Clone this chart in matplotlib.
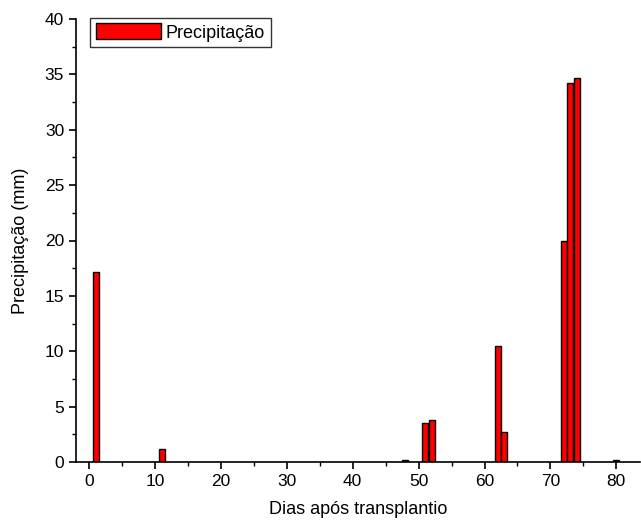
import numpy as np
import matplotlib
matplotlib.use('Agg')
import matplotlib.pyplot as plt
from matplotlib.ticker import MultipleLocator

plt.rcParams['font.family'] = ['Liberation Sans', 'DejaVu Sans']

# ========== Dados ==========
dias = [1, 11, 48, 51, 52, 62, 63, 72, 73, 74, 80]
precipitacao = [17.2, 1.2, 0.2, 3.5, 3.8, 10.5, 2.7, 20.0, 34.2, 34.7, 0.2]

# ========== Grafico ==========
fig = plt.figure(figsize=(6.41, 5.27), dpi=100)
ax = fig.add_axes([76 / 641, 65 / 527, 564 / 641, 443 / 527])

ax.bar(dias, precipitacao, width=0.9, color='#ff0000', edgecolor='black',
       linewidth=1.0, label='Precipitação')

ax.set_xlim(-2, 83.6)
ax.set_ylim(0, 40)
ax.xaxis.set_major_locator(MultipleLocator(10))
ax.xaxis.set_minor_locator(MultipleLocator(5))
ax.yaxis.set_major_locator(MultipleLocator(5))
ax.yaxis.set_minor_locator(MultipleLocator(2.5))

ax.spines['top'].set_visible(False)
ax.spines['right'].set_visible(False)
for s in ['left', 'bottom']:
    ax.spines[s].set_linewidth(1.2)
ax.tick_params(which='major', direction='out', length=5, width=1.2, labelsize=12.5)
ax.tick_params(which='minor', direction='out', length=3, width=1.0)

ax.set_xlabel('Dias após transplantio', fontsize=13, labelpad=9)
ax.set_ylabel('Precipitação (mm)', fontsize=13, labelpad=11)

leg = ax.legend(loc='upper left', bbox_to_anchor=(0.009, 1.023), fontsize=13,
                frameon=True, fancybox=False, edgecolor='black',
                handlelength=3.6, handleheight=1.0, borderpad=0.3,
                handletextpad=0.3)
leg.get_frame().set_linewidth(1.0)

fig.savefig('out.png', dpi=100)
